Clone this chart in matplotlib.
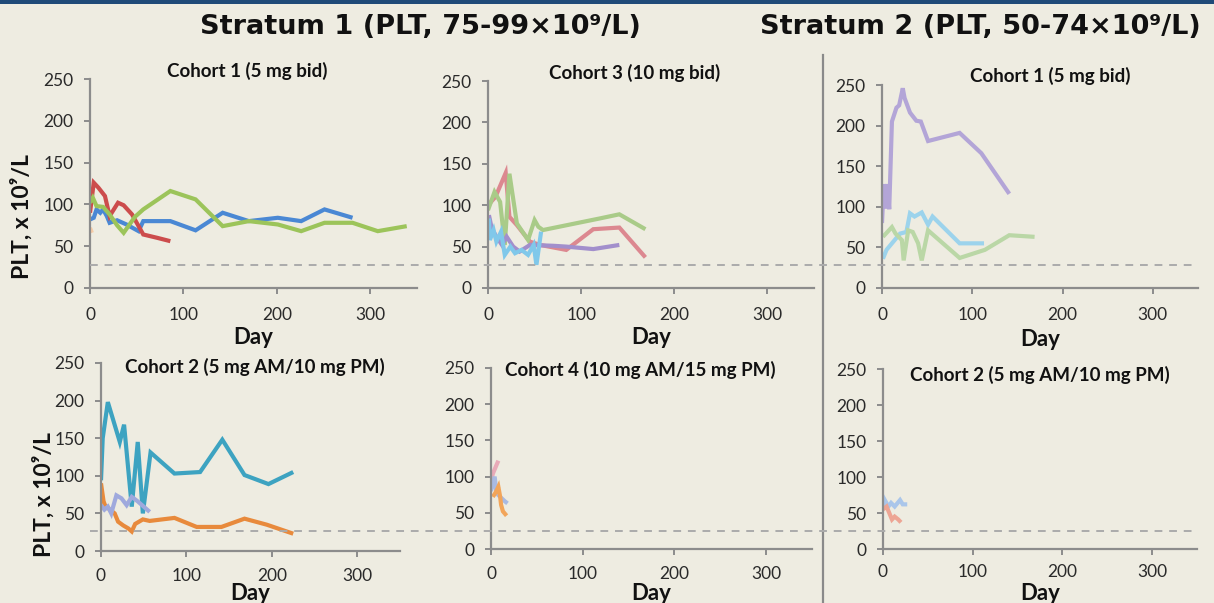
import matplotlib
matplotlib.use('Agg')
import matplotlib.pyplot as plt
from matplotlib.lines import Line2D
from matplotlib.patches import Rectangle

W, H = 1214, 603
BG = '#EEECE1'

# ---------------- data ----------------
x_ticks = [0, 100, 200, 300]
y_ticks = [0, 50, 100, 150, 200, 250]
threshold = 27

header_1 = 'Stratum 1 (PLT, 75-99×10⁹/L)'
header_2 = 'Stratum 2 (PLT, 50-74×10⁹/L)'
title_s1c1 = 'Cohort 1 (5 mg bid)'
title_s1c3 = 'Cohort 3 (10 mg bid)'
title_s2c1 = 'Cohort 1 (5 mg bid)'
title_s1c2 = 'Cohort 2 (5 mg AM/10 mg PM)'
title_s1c4 = 'Cohort 4 (10 mg AM/15 mg PM)'
title_s2c2 = 'Cohort 2 (5 mg AM/10 mg PM)'
y_label = 'PLT, x 10⁹/L'
x_label = 'Day'

# Stratum 1, Cohort 1
s1c1_blue_day = [0, 4, 7, 11, 14, 18, 21, 29, 39, 52, 57, 86, 113, 142, 170, 201, 226, 251, 281]
s1c1_blue_plt = [82, 84, 94, 90, 94, 86, 78, 81, 76, 68, 80, 80, 69, 90, 80, 84, 80, 94, 84]
s1c1_red_day = [0, 4, 9, 16, 21, 30, 36, 45, 57, 72, 86]
s1c1_red_plt = [90, 126, 120, 110, 86, 102, 99, 88, 64, 60, 56]
s1c1_green_day = [0, 3, 7, 14, 21, 29, 36, 48, 57, 86, 113, 142, 170, 201, 226, 251, 281, 308, 339]
s1c1_green_plt = [102, 108, 98, 97, 88, 75, 66, 85, 94, 116, 106, 74, 80, 76, 68, 78, 78, 68, 74]
s1c1_peach_day = [0, 2]
s1c1_peach_plt = [72, 66]

# Stratum 1, Cohort 3
s1c3_red_day = [0, 8, 19, 23, 31, 45, 56, 84, 113, 141, 169]
s1c3_red_plt = [100, 110, 139, 86, 76, 56, 52, 46, 71, 73, 37]
s1c3_green_day = [0, 7, 13, 18, 23, 31, 43, 50, 54, 59, 120, 141, 169]
s1c3_green_plt = [94, 116, 104, 52, 138, 78, 58, 82, 74, 70, 84, 89, 71]
s1c3_purple_day = [1, 4, 9, 15, 20, 27, 34, 45, 70, 84, 113, 141]
s1c3_purple_plt = [88, 72, 62, 52, 62, 50, 44, 52, 51, 50, 47, 52]
s1c3_lblue_day = [1, 2, 6, 9, 14, 18, 24, 29, 36, 43, 49, 52, 57]
s1c3_lblue_plt = [84, 58, 70, 56, 68, 40, 50, 42, 46, 40, 52, 28, 68]

# Stratum 2, Cohort 1
s2c1_purple_day = [0, 2, 4, 6, 8, 11, 16, 19, 23, 25, 31, 38, 43, 51, 86, 110, 141]
s2c1_purple_plt = [80, 128, 98, 128, 97, 205, 222, 225, 246, 234, 216, 206, 205, 181, 191, 166, 116]
s2c1_lblue_day = [1, 5, 20, 27, 31, 36, 44, 51, 56, 86, 113]
s2c1_lblue_plt = [36, 47, 67, 69, 92, 88, 93, 78, 88, 55, 55]
s2c1_green_day = [1, 11, 15, 22, 24, 29, 34, 40, 44, 51, 86, 114, 141, 169]
s2c1_green_plt = [63, 75, 67, 59, 34, 71, 69, 55, 34, 71, 37, 47, 65, 63]

# Stratum 1, Cohort 2
s1c2_teal_day = [0, 2, 8, 22, 27, 36, 43, 49, 58, 86, 116, 142, 168, 196, 225]
s1c2_teal_plt = [94, 150, 198, 145, 168, 59, 145, 50, 131, 103, 105, 148, 101, 89, 105]
s1c2_orange_day = [0, 3, 5, 16, 20, 26, 32, 36, 40, 49, 57, 86, 112, 141, 168, 194, 225]
s1c2_orange_plt = [90, 66, 60, 50, 39, 34, 30, 26, 36, 42, 40, 44, 32, 32, 43, 35, 23]
s1c2_lav_day = [0, 4, 8, 12, 18, 24, 30, 36, 43, 49, 57]
s1c2_lav_plt = [61, 55, 59, 50, 74, 70, 61, 72, 66, 60, 52]

# Stratum 1, Cohort 4
s1c4_pink_day = [0, 2, 8]
s1c4_pink_plt = [92, 104, 122]
s1c4_lblue_day = [0, 4, 6, 10, 15, 18]
s1c4_lblue_plt = [80, 100, 77, 72, 66, 63]
s1c4_orange_day = [2, 5, 8, 10, 11, 13, 17]
s1c4_orange_plt = [72, 78, 86, 72, 61, 52, 46]

# Stratum 2, Cohort 2
s2c2_lblue_day = [0, 2, 6, 9, 13, 19, 22, 27]
s2c2_lblue_plt = [55, 68, 59, 64, 59, 68, 62, 62]
s2c2_salmon_day = [0, 4, 7, 10, 13, 17, 20]
s2c2_salmon_plt = [55, 59, 50, 41, 45, 41, 37]

# ---------------- figure ----------------
plt.rcParams['font.family'] = ['Lato', 'DejaVu Sans']

fig = plt.figure(figsize=(W / 100, H / 100), dpi=100, facecolor=BG)


def rect(l, t, r, b):
    return [l / W, 1 - b / H, (r - l) / W, (b - t) / H]


def fx(x):
    return x / W


def fy(y):
    return 1 - y / H


LW = 3.0
panels = [
    dict(r=rect(90, 79, 417, 288), title=title_s1c1, tpos=(247, 71), daypos=337, xpad=10,
         series=[(s1c1_peach_day, s1c1_peach_plt, '#F6CBA6'),
                 (s1c1_blue_day, s1c1_blue_plt, '#4A88D4'),
                 (s1c1_red_day, s1c1_red_plt, '#CC4C4C'),
                 (s1c1_green_day, s1c1_green_plt, '#9CC45A')]),
    dict(r=rect(488, 81, 814, 288), title=title_s1c3, tpos=(635, 73), daypos=337, xpad=10,
         series=[(s1c3_red_day, s1c3_red_plt, '#DC8890'),
                 (s1c3_green_day, s1c3_green_plt, '#A9CB88'),
                 (s1c3_purple_day, s1c3_purple_plt, '#A28FCC'),
                 (s1c3_lblue_day, s1c3_lblue_plt, '#80C8EA')]),
    dict(r=rect(882, 85, 1198, 288), title=title_s2c1, tpos=(1050, 76), daypos=339, xpad=10,
         series=[(s2c1_purple_day, s2c1_purple_plt, '#B3A5D7'),
                 (s2c1_lblue_day, s2c1_lblue_plt, '#9CD3EC'),
                 (s2c1_green_day, s2c1_green_plt, '#BAD7A6')]),
    dict(r=rect(101, 363, 400, 551), title=title_s1c2, tpos=(255, 367), daypos=594, xpad=8,
         series=[(s1c2_teal_day, s1c2_teal_plt, '#3DA3C1'),
                 (s1c2_orange_day, s1c2_orange_plt, '#E88A3C'),
                 (s1c2_lav_day, s1c2_lav_plt, '#9FA9DD')]),
    dict(r=rect(491, 368, 812, 549), title=title_s1c4, tpos=(640, 370), daypos=594, xpad=8,
         series=[(s1c4_pink_day, s1c4_pink_plt, '#E8AAB8'),
                 (s1c4_lblue_day, s1c4_lblue_plt, '#A9BAE2'),
                 (s1c4_orange_day, s1c4_orange_plt, '#F2A55A')]),
    dict(r=rect(883, 369, 1197, 549), title=title_s2c2, tpos=(1040, 375), daypos=593, xpad=7,
         series=[(s2c2_lblue_day, s2c2_lblue_plt, '#AAC6EA'),
                 (s2c2_salmon_day, s2c2_salmon_plt, '#EDA594')]),
]

axes = []
for p in panels:
    ax = fig.add_axes(p['r'])
    ax.set_facecolor('none')
    for d, v, c in p['series']:
        ax.plot(d, v, color=c, lw=LW, solid_joinstyle='miter', solid_capstyle='butt')
    ax.set_xlim(0, 350)
    ax.set_ylim(0, 250)
    ax.set_xticks(x_ticks)
    ax.set_yticks(y_ticks)
    for s in ['top', 'right']:
        ax.spines[s].set_visible(False)
    for s in ['left', 'bottom']:
        ax.spines[s].set_color('#8C8C8C')
        ax.spines[s].set_linewidth(1.6)
    ax.tick_params(axis='both', direction='out', length=4, width=1.4, color='#8C8C8C',
                   labelsize=12.5, labelcolor='#2A2A2A')
    ax.tick_params(axis='y', pad=8)
    ax.tick_params(axis='x', pad=p['xpad'])
    fig.text(fx(p['tpos'][0]), fy(p['tpos'][1]), p['title'], ha='center', va='center',
             fontsize=13.5, fontweight='bold', color='#111111')
    cx = (p['r'][0] + p['r'][2] / 2)
    fig.text(cx, fy(p['daypos']), x_label, ha='center', va='center',
             fontsize=16, fontweight='bold', color='#111111')
    axes.append(ax)

# y labels
fig.text(fx(22), fy(217), y_label, rotation=90, ha='center', va='center',
         fontsize=16.5, fontweight='bold', color='#111111')
fig.text(fx(44), fy(495), y_label, rotation=90, ha='center', va='center',
         fontsize=16.5, fontweight='bold', color='#111111')

# headers
fig.text(fx(420), fy(27), header_1, ha='center', va='center', fontsize=19.5,
         fontweight='bold', family=['DejaVu Sans'], color='#111111')
fig.text(fx(980), fy(27), header_2, ha='center', va='center', fontsize=19.5,
         fontweight='bold', family=['DejaVu Sans'], color='#111111')

# top navy band
fig.patches.append(Rectangle((0, fy(4)), 1, 4 / H, transform=fig.transFigure,
                             facecolor='#1F4A78', edgecolor='none'))

# stratum separator
fig.lines.append(Line2D([fx(823), fx(823)], [fy(55), fy(603)], transform=fig.transFigure,
                        color='#8A8A8A', lw=1.6))

# threshold dashed lines across each row
fig.canvas.draw()
for ax in (axes[0], axes[3]):
    ypix = ax.transData.transform((0, threshold))[1]
    yf = ypix / (H)
    fig.lines.append(Line2D([fx(90), fx(1198)], [yf, yf], transform=fig.transFigure,
                            color='#ABABAB', lw=1.4, dashes=(4, 3.5)))

fig.savefig('out.png', dpi=100, facecolor=BG)
